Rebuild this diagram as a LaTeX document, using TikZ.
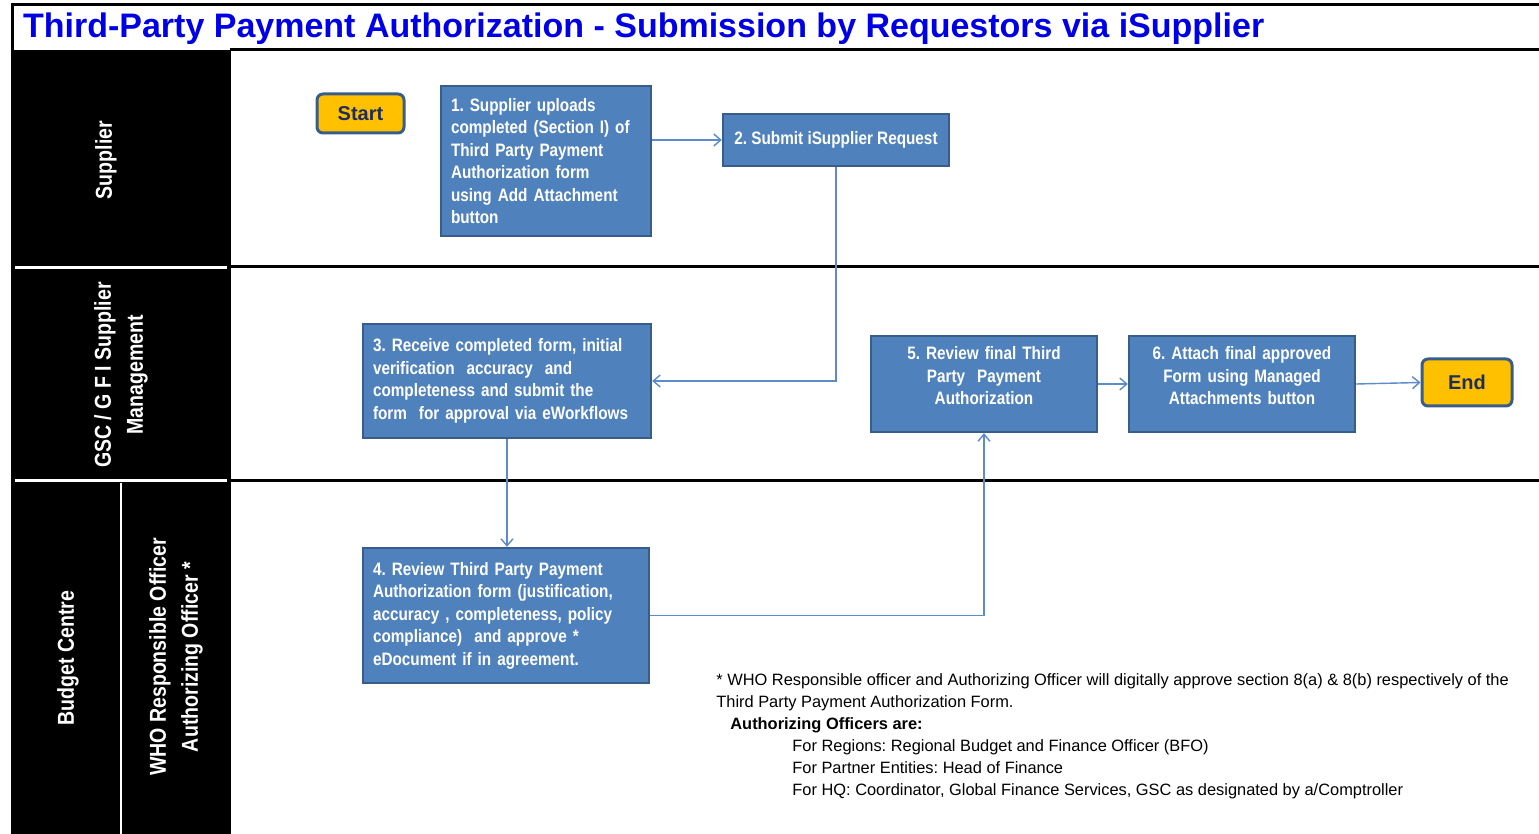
\documentclass[tikz,border=0pt]{standalone}
\usepackage{fontspec}
\setmainfont{Liberation Sans}
\newfontfamily\narrowfont{Liberation Sans}[FakeStretch=0.85]
\usetikzlibrary{arrows.meta,positioning}
\definecolor{boxblue}{HTML}{4F81BD}
\definecolor{boxedge}{HTML}{385D8A}
\definecolor{linkblue}{HTML}{5B8BC9}
\definecolor{termyellow}{HTML}{FFC000}
\definecolor{termtext}{HTML}{1F2D5C}
\definecolor{titleblue}{RGB}{0,0,230}
\frenchspacing
\tikzset{
	stepbox/.style={draw=boxedge,line width=1.2pt,fill=boxblue,text=white,inner xsep=5pt,
		font=\narrowfont\bfseries\fontsize{9}{11.25}\selectfont},
	termbox/.style={draw=boxedge,line width=1.5pt,fill=termyellow,rounded corners=3pt,
		text=termtext,font=\bfseries\fontsize{10}{12}\selectfont},
	link/.style={draw=linkblue,line width=0.7pt,-{Straight Barb[length=3.5pt,width=6pt]}},
	lanetext/.style={text=white,rotate=90,align=center,
		font=\narrowfont\bfseries\fontsize{11.5}{16}\selectfont},
}
\begin{document}
\begin{tikzpicture}[x=0.5pt,y=-0.5pt]
\useasboundingbox (0,0) rectangle (1539,834);
%%% Lane header column
\fill[black] (12,50) rectangle (230,834);
\draw[white,line width=1.5pt] (15,268) -- (227,268);
\draw[white,line width=1.5pt] (15,481) -- (227,481);
\draw[white,line width=1.2pt] (121,483) -- (121,834);
%%% Frame and lane borders
\draw[line width=1.5pt] (1539,5) -- (12,5) -- (12,834);
\foreach \y in {50,267,481}
{
	\draw[line width=1.5pt] (230,\y) -- (1539,\y);
}
\draw[line width=1pt] (230,50) -- (230,834);
%%% Title
\node[anchor=west,text=titleblue,font=\bfseries\fontsize{17}{20}\selectfont] (title) at (16,29)
	{Third-Party Payment Authorization - Submission by Requestors via iSupplier};
%%% Lane names
\node[lanetext] (supplier) at (106,160) {Supplier};
\node[lanetext] (gsc) at (121,375) {GSC / G F I Supplier\\Management};
\node[lanetext] (budget) at (68,658) {Budget Centre};
\node[lanetext] (officer) at (176,657) {WHO Responsible Officer\\Authorizing Officer *};
%%% Steps
\node[termbox,minimum width=43.5pt,minimum height=19.5pt] (start) at (360.5,113.5) {Start};
\node[stepbox,minimum width=105pt,minimum height=75pt,text width=95pt,align=left] (s1) at (546,161)
	{1. Supplier uploads\\completed (Section I) of\\Third Party Payment\\Authorization form\\using Add Attachment\\button};
\node[stepbox,minimum width=113pt,minimum height=26pt] (s2) at (836,140) {2. Submit iSupplier Request};
\node[stepbox,minimum width=144pt,minimum height=57pt,text width=134pt,align=left] (s3) at (507,381)
	{3. Receive completed form, initial\\verification\ \ accuracy\ \ and\\completeness and submit the\\form\ \ for approval via eWorkflows};
\node[stepbox,minimum width=143pt,minimum height=67.5pt,text width=133pt,align=left] (s4) at (506,615.5)
	{4. Review Third Party Payment\\Authorization form (justification,\\accuracy , completeness, policy\\compliance)\ \ and approve *\\eDocument if in agreement.};
\node[stepbox,minimum width=113pt,minimum height=48pt,text width=103pt,align=center,text depth=31pt] (s5) at (984,384)
	{5. Review final Third\\Party\ \ Payment\\Authorization};
\node[stepbox,minimum width=113pt,minimum height=48pt,text width=103pt,align=center,text depth=31pt] (s6) at (1242,384)
	{6. Attach final approved\\Form using Managed\\Attachments button};
\node[termbox,minimum width=45pt,minimum height=23.5pt] (end) at (1467,382.5) {End};
%%% Connectors
\draw[link] (s2.west -| s1.east) -- (s2.west);
\draw[link] (s2.south) |- (s3.east);
\draw[link] (s3.south) -- (s3.south |- s4.north);
\draw[link] (s4.east) -| (s5.south);
\draw[link] (s5.east) -- (s6.west);
\draw[link] (s6.east) -- (end.west);
%%% Footnote
\node[anchor=north west,align=left,inner sep=0pt,font=\fontsize{8.2}{11}\selectfont] (note) at (716,673)
	{* WHO Responsible officer and Authorizing Officer will digitally approve section 8(a) \& 8(b) respectively of the\\
	Third Party Payment Authorization Form.\\
	\hspace*{7pt}\textbf{Authorizing Officers are:}\\
	\hspace*{38pt}For Regions: Regional Budget and Finance Officer (BFO)\\
	\hspace*{38pt}For Partner Entities: Head of Finance\\
	\hspace*{38pt}For HQ: Coordinator, Global Finance Services, GSC as designated by a/Comptroller};
\end{tikzpicture}
\end{document}
